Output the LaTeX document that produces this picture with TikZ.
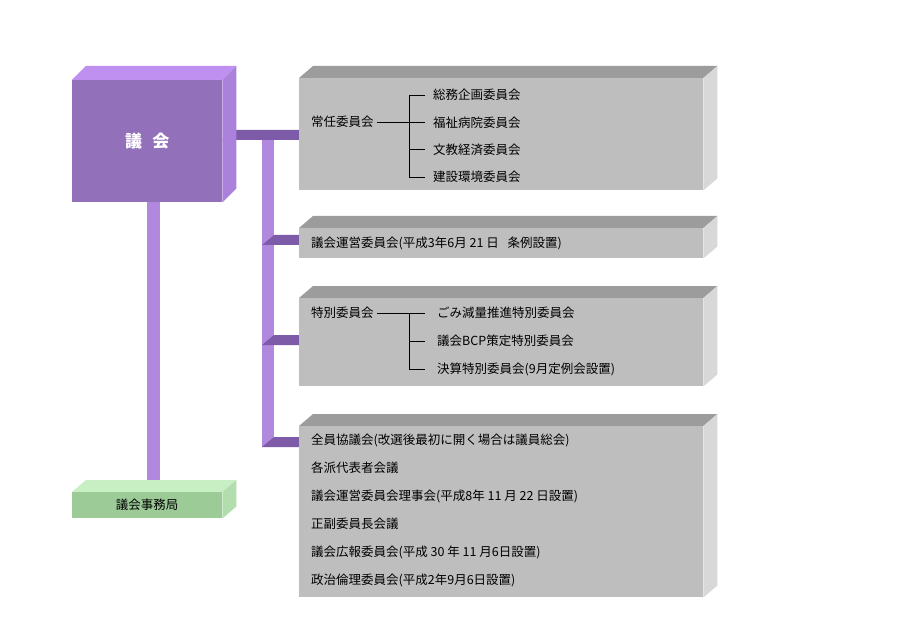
\documentclass[tikz,border=0pt]{standalone}
\usepackage{fontspec}
\newfontfamily\jp{Noto Sans CJK JP}
\usetikzlibrary{positioning}
\definecolor{gfront}{HTML}{9370BA}
\definecolor{gtop}{HTML}{BF90F0}
\definecolor{gside}{HTML}{AA82DC}
\definecolor{bardark}{HTML}{7E5BA8}
\definecolor{barlight}{HTML}{B088DE}
\definecolor{cfront}{HTML}{BEBEBE}
\definecolor{ctop}{HTML}{9C9C9C}
\definecolor{cside}{HTML}{D8D8D8}
\definecolor{sfront}{HTML}{9CCB98}
\definecolor{stop}{HTML}{C8EEC4}
\definecolor{sside}{HTML}{B2DEAE}
% front face node, top face and side face behind it
\newcommand{\slab}[5]{%
  \fill[#4] (#1.north west) -- ++(14,-#5) -- ([xshift=14pt,yshift=#5pt]#1.north east) -- (#1.north east) -- cycle;
  \fill[#3] (#1.north east) -- ++(14,-#5) -- ([xshift=14pt,yshift=#5pt]#1.south east) -- (#1.south east) -- cycle;
  \fill[#2] (#1.north west) rectangle (#1.south east);}
\begin{document}
\begin{tikzpicture}[x=1pt,y=-1pt,
    face/.style={inner sep=0pt,anchor=north west},
    lbl/.style={anchor=west,inner sep=0pt,font=\jp\fontsize{12.5}{14}\selectfont},
    tree/.style={black,line width=0.6pt}]
  \useasboundingbox[fill=white] (0,0) rectangle (920,644);
  \node[face,minimum width=150pt,minimum height=122pt] (gikai) at (72,80) {};
  \node[face,minimum width=404pt,minimum height=112pt] (jonin) at (299,78) {};
  \node[face,minimum width=404pt,minimum height=30pt] (unei) at (299,228) {};
  \node[face,minimum width=404pt,minimum height=88pt] (tokubetsu) at (299,298) {};
  \node[face,minimum width=404pt,minimum height=171pt] (zenin) at (299,426) {};
  \node[face,minimum width=150pt,minimum height=26pt] (jimu) at (72,492) {};
  \coordinate (bus) at (262,130);

  % bars
  \fill[barlight] (147,202) rectangle (160,492);
  \fill[barlight] (262,140) rectangle (274,447);
  \fill[bardark] (222,140) -- (234,130) -- (299,130) -- (299,140) -- cycle;
  \foreach \y in {235,335,437}
    \fill[bardark] (262,\y+10) -- (274,\y) -- (299,\y) -- (299,\y+10) -- cycle;

  \slab{gikai}{gfront}{gside}{gtop}{14}
  \slab{jonin}{cfront}{cside}{ctop}{12}
  \slab{unei}{cfront}{cside}{ctop}{12}
  \slab{tokubetsu}{cfront}{cside}{ctop}{12}
  \slab{zenin}{cfront}{cside}{ctop}{12}
  \slab{jimu}{sfront}{sside}{stop}{12}

  \node[font=\jp\bfseries\fontsize{17}{20}\selectfont,text=white] (gikaiT) at (gikai) {議\hspace{0.6em}会};
  \node[font=\jp\fontsize{12.5}{14}\selectfont] (jimuT) at (jimu) {議会事務局};

  % standing committees
  \node[lbl] (jo) at (311,122) {常任委員会};
  \foreach \t [count=\i] in {総務企画委員会,福祉病院委員会,文教経済委員会,建設環境委員会}
    \node[lbl] (jo\i) at (433,95+27.3*\i-27.3) {\t};
  \draw[tree] (jo.east) ++(3,0) -- (409,122);
  \draw[tree] (425,95) -| (409,177) -- (425,177);
  \foreach \i in {2,3} \draw[tree] (409,0 |- jo\i.west) -- (425,0 |- jo\i.west);

  \node[lbl] (un) at (311,243) {議会運営委員会(平成3年6月 21 日\hspace{0.7em}条例設置)};

  % special committees
  \node[lbl] (to) at (311,313) {特別委員会};
  \node[lbl] (to1) at (437,313) {ごみ減量推進特別委員会};
  \node[lbl] (to2) at (437,341) {議会BCP策定特別委員会};
  \node[lbl] (to3) at (437,369) {決算特別委員会(9月定例会設置)};
  \draw[tree] (to.east) ++(3,0) -- (425,313);
  \draw[tree] (409,313) |- (425,369);
  \draw[tree] (409,341) -- (425,341);

  % other meetings
  \foreach \t [count=\i] in {全員協議会(改選後最初に開く場合は議員総会),各派代表者会議,
      議会運営委員会理事会(平成8年 11 月 22 日設置),正副委員長会議,
      議会広報委員会(平成 30 年 11 月6日設置),政治倫理委員会(平成2年9月6日設置)}
    \node[lbl] (ze\i) at (311,440+28*\i-28) {\t};
\end{tikzpicture}
\end{document}
